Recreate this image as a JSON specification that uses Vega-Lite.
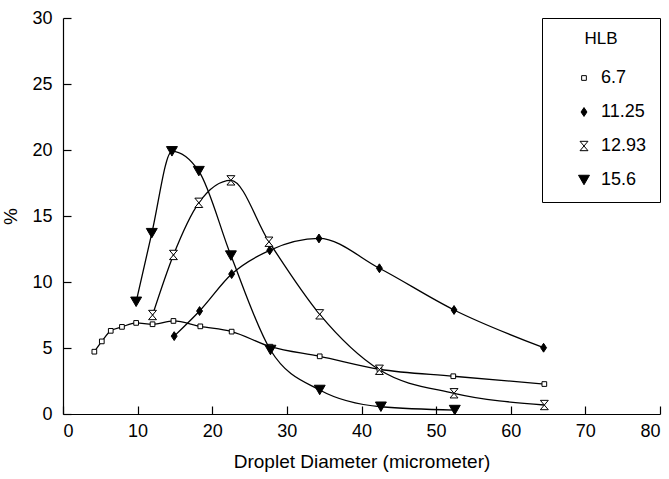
{
  "$schema": "https://vega.github.io/schema/vega-lite/v6.json",
  "width": 597,
  "height": 396,
  "autosize": {"type": "none"},
  "padding": {"left": 63, "top": 18, "right": 9, "bottom": 65},
  "background": "white",
  "config": {
    "view": {"stroke": null},
    "font": "Liberation Sans",
    "axis": {
      "grid": false,
      "domainColor": "black",
      "tickColor": "black",
      "labelColor": "black",
      "titleColor": "black",
      "labelFont": "Liberation Sans",
      "titleFont": "Liberation Sans",
      "labelFontSize": 18,
      "titleFontSize": 19,
      "titleFontWeight": "normal",
      "tickSize": -8,
      "domainWidth": 1.2,
      "tickWidth": 1.2
    },
    "legend": {
      "orient": "top-right",
      "offset": 0,
      "padding": 13,
      "strokeColor": "black",
      "fillColor": "white",
      "titleFontSize": 17,
      "titleFontWeight": "normal",
      "titleColor": "black",
      "titleFont": "Liberation Sans",
      "titleAnchor": "middle",
      "titlePadding": 21,
      "labelFontSize": 18,
      "labelColor": "black",
      "labelFont": "Liberation Sans",
      "symbolOffset": 20,
      "labelOffset": 8,
      "rowPadding": 16,
      "symbolStrokeWidth": 1
    }
  },
  "data": {
    "values": [
      {"d": 4.2, "p": 4.72, "HLB": "6.7"},
      {"d": 5.2, "p": 5.5, "HLB": "6.7"},
      {"d": 6.4, "p": 6.3, "HLB": "6.7"},
      {"d": 7.9, "p": 6.6, "HLB": "6.7"},
      {"d": 9.8, "p": 6.9, "HLB": "6.7"},
      {"d": 12.0, "p": 6.8, "HLB": "6.7"},
      {"d": 14.8, "p": 7.05, "HLB": "6.7"},
      {"d": 18.4, "p": 6.64, "HLB": "6.7"},
      {"d": 22.6, "p": 6.24, "HLB": "6.7"},
      {"d": 27.8, "p": 5.1, "HLB": "6.7"},
      {"d": 34.4, "p": 4.37, "HLB": "6.7"},
      {"d": 42.4, "p": 3.39, "HLB": "6.7"},
      {"d": 52.3, "p": 2.86, "HLB": "6.7"},
      {"d": 64.5, "p": 2.27, "HLB": "6.7"},
      {"d": 14.9, "p": 5.9, "HLB": "11.25"},
      {"d": 18.3, "p": 7.8, "HLB": "11.25"},
      {"d": 22.6, "p": 10.6, "HLB": "11.25"},
      {"d": 27.7, "p": 12.4, "HLB": "11.25"},
      {"d": 34.3, "p": 13.3, "HLB": "11.25"},
      {"d": 42.4, "p": 11.04, "HLB": "11.25"},
      {"d": 52.4, "p": 7.88, "HLB": "11.25"},
      {"d": 64.4, "p": 5.02, "HLB": "11.25"},
      {"d": 12.0, "p": 7.5, "HLB": "12.93"},
      {"d": 14.8, "p": 12.05, "HLB": "12.93"},
      {"d": 18.2, "p": 16.0, "HLB": "12.93"},
      {"d": 22.5, "p": 17.7, "HLB": "12.93"},
      {"d": 27.6, "p": 13.05, "HLB": "12.93"},
      {"d": 34.4, "p": 7.55, "HLB": "12.93"},
      {"d": 42.4, "p": 3.35, "HLB": "12.93"},
      {"d": 52.4, "p": 1.57, "HLB": "12.93"},
      {"d": 64.5, "p": 0.68, "HLB": "12.93"},
      {"d": 9.8, "p": 8.5, "HLB": "15.6"},
      {"d": 11.9, "p": 13.7, "HLB": "15.6"},
      {"d": 14.6, "p": 19.9, "HLB": "15.6"},
      {"d": 18.2, "p": 18.4, "HLB": "15.6"},
      {"d": 22.5, "p": 12.0, "HLB": "15.6"},
      {"d": 27.8, "p": 4.85, "HLB": "15.6"},
      {"d": 34.4, "p": 1.82, "HLB": "15.6"},
      {"d": 42.6, "p": 0.55, "HLB": "15.6"},
      {"d": 52.5, "p": 0.3, "HLB": "15.6"}
    ]
  },
  "encoding": {
    "x": {
      "field": "d", "type": "quantitative",
      "scale": {"domain": [0, 80], "nice": false},
      "axis": {"values": [0,10,20,30,40,50,60,70,80], "title": "Droplet Diameter (micrometer)", "labelPadding": 16, "titlePadding": 12}
    },
    "y": {
      "field": "p", "type": "quantitative",
      "scale": {"domain": [0, 30], "nice": false},
      "axis": {"values": [0,5,10,15,20,25,30], "title": "%", "labelPadding": 19, "titlePadding": 11}
    }
  },
  "layer": [
    {
      "mark": {"type": "line", "color": "black", "strokeWidth": 1.3, "interpolate": "monotone"},
      "encoding": {"detail": {"field": "HLB", "type": "nominal"}}
    },
    {
      "mark": {"type": "point", "filled": true, "strokeWidth": 1, "opacity": 1},
      "encoding": {
        "shape": {
          "field": "HLB", "type": "nominal", "title": "HLB",
          "scale": {"domain": ["6.7", "11.25", "12.93", "15.6"], "range": ["square", "M0,-1.2L0.8,0L0,1.2L-0.8,0Z", "M-0.85,-1L0.85,-1L-0.85,1L0.85,1Z", "triangle-down"]}
        },
        "fill": {
          "field": "HLB", "type": "nominal", "title": "HLB",
          "scale": {"domain": ["6.7", "11.25", "12.93", "15.6"], "range": ["white", "black", "white", "black"]}
        },
        "stroke": {
          "field": "HLB", "type": "nominal", "title": "HLB",
          "scale": {"domain": ["6.7", "11.25", "12.93", "15.6"], "range": ["black", "black", "black", "black"]}
        },
        "size": {
          "field": "HLB", "type": "nominal", "title": "HLB",
          "scale": {"domain": ["6.7", "11.25", "12.93", "15.6"], "range": [22, 120, 110, 150]}
        }
      }
    }
  ]
}
